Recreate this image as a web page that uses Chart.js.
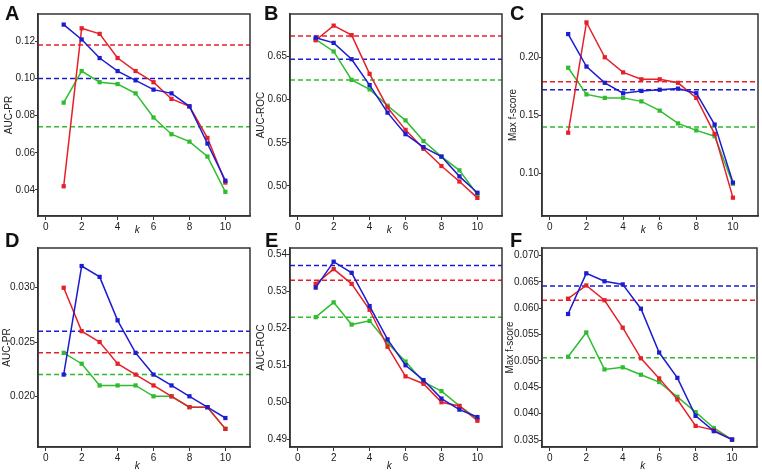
<!DOCTYPE html>
<html>
<head>
<meta charset="utf-8">
<script src="https://cdn.jsdelivr.net/npm/chart.js@4"></script>
<style>
  html, body { margin: 0; padding: 0; background: #fff; }
  #wrap { position: relative; width: 762px; height: 473px; overflow: hidden; }
  #wrap canvas { position: absolute; }
  .letter { position: absolute; font: bold 20px "Liberation Sans", Arial, sans-serif; color: #111; line-height: 1; }
</style>
</head>
<body>
<div id="wrap">
  <canvas id="pA" width="254" height="240" style="left:0;top:0"></canvas>
  <canvas id="pB" width="254" height="240" style="left:252px;top:0"></canvas>
  <canvas id="pC" width="258" height="240" style="left:504px;top:0"></canvas>
  <canvas id="pD" width="254" height="247" style="left:0;top:226px"></canvas>
  <canvas id="pE" width="254" height="247" style="left:252px;top:226px"></canvas>
  <canvas id="pF" width="258" height="247" style="left:504px;top:226px"></canvas>
  <div class="letter" style="left:5px;top:3px">A</div>
  <div class="letter" style="left:264px;top:3px">B</div>
  <div class="letter" style="left:510px;top:3px">C</div>
  <div class="letter" style="left:5px;top:230px">D</div>
  <div class="letter" style="left:265px;top:230px">E</div>
  <div class="letter" style="left:510px;top:230px">F</div>
</div>
<script>
// ── k-sweep panels: AUC-PR / AUC-ROC / Max f-score, two rows ──
const K = [1, 2, 3, 4, 5, 6, 7, 8, 9, 10];
const X_TICKS = [0, 2, 4, 6, 8, 10];

// A
const A_RED   = [0.042, 0.127, 0.124, 0.111, 0.104, 0.098, 0.089, 0.085, 0.068, 0.044];
const A_BLUE  = [0.129, 0.121, 0.111, 0.104, 0.099, 0.094, 0.092, 0.085, 0.065, 0.045];
const A_GREEN = [0.087, 0.104, 0.098, 0.097, 0.092, 0.079, 0.070, 0.066, 0.058, 0.039];
const A_REF   = { red: 0.118, blue: 0.100, green: 0.074 };
const A_TICKS = [0.04, 0.06, 0.08, 0.10, 0.12];

// B
const B_RED   = [0.669, 0.686, 0.675, 0.630, 0.591, 0.565, 0.543, 0.523, 0.505, 0.486];
const B_BLUE  = [0.672, 0.666, 0.647, 0.617, 0.585, 0.560, 0.545, 0.534, 0.511, 0.492];
const B_GREEN = [0.670, 0.656, 0.623, 0.612, 0.593, 0.576, 0.552, 0.534, 0.518, 0.490];
const B_REF   = { red: 0.674, blue: 0.647, green: 0.623 };
const B_TICKS = [0.50, 0.55, 0.60, 0.65];

// C
const C_RED   = [0.135, 0.230, 0.200, 0.187, 0.181, 0.181, 0.178, 0.165, 0.134, 0.079];
const C_BLUE  = [0.220, 0.192, 0.178, 0.169, 0.171, 0.172, 0.173, 0.169, 0.142, 0.092];
const C_GREEN = [0.191, 0.168, 0.165, 0.165, 0.162, 0.154, 0.143, 0.137, 0.132, 0.091];
const C_REF   = { red: 0.179, blue: 0.172, green: 0.140 };
const C_TICKS = [0.10, 0.15, 0.20];

// D
const D_RED   = [0.030, 0.026, 0.025, 0.023, 0.022, 0.021, 0.020, 0.019, 0.019, 0.017];
const D_BLUE  = [0.022, 0.032, 0.031, 0.027, 0.024, 0.022, 0.021, 0.020, 0.019, 0.018];
const D_GREEN = [0.024, 0.023, 0.021, 0.021, 0.021, 0.020, 0.020, 0.019, 0.019, 0.017];
const D_REF   = { red: 0.024, blue: 0.026, green: 0.022 };
const D_TICKS = [0.020, 0.025, 0.030];

// E
const E_RED   = [0.532, 0.536, 0.532, 0.525, 0.515, 0.507, 0.505, 0.500, 0.499, 0.495];
const E_BLUE  = [0.531, 0.538, 0.535, 0.526, 0.517, 0.510, 0.506, 0.501, 0.498, 0.496];
const E_GREEN = [0.523, 0.527, 0.521, 0.522, 0.516, 0.511, 0.5055, 0.503, 0.499, 0.4955];
const E_REF   = { red: 0.533, blue: 0.537, green: 0.523 };
const E_TICKS = [0.49, 0.50, 0.51, 0.52, 0.53, 0.54];

// F
const F_RED   = [0.0618, 0.0643, 0.0615, 0.0563, 0.0505, 0.0467, 0.0427, 0.0377, 0.0369, 0.0351];
const F_BLUE  = [0.0589, 0.0666, 0.0651, 0.0645, 0.0599, 0.0516, 0.0468, 0.0396, 0.0367, 0.0351];
const F_GREEN = [0.0508, 0.0554, 0.0484, 0.0488, 0.0474, 0.0460, 0.0432, 0.0403, 0.0373, 0.0351];
const F_REF   = { red: 0.0615, blue: 0.0642, green: 0.0506 };
const F_TICKS = [0.035, 0.040, 0.045, 0.050, 0.055, 0.060, 0.065, 0.070];

const COL = { red: '#e5202a', blue: '#1c1cd0', green: '#2fbd2f' };
const FONT = "'Liberation Sans', Arial, sans-serif";
const INK = '#222';
const X_MIN = -0.43, X_MAX = 11.37;

const boxPlugin = {
  id: 'box',
  afterDatasetsDraw(chart, _args, opts) {
    const { ctx, chartArea: a, scales } = chart;
    ctx.save();
    ctx.strokeStyle = '#333';
    ctx.lineWidth = 1.5;
    ctx.strokeRect(a.left, a.top, a.right - a.left, a.bottom - a.top);
    ctx.fillStyle = INK;
    ctx.font = `italic 10px ${FONT}`;
    ctx.textAlign = 'center';
    ctx.textBaseline = 'middle';
    ctx.fillText('k', scales.x.getPixelForValue(5.1), a.bottom + opts.kOffset);
    ctx.restore();
  },
};

function _line(vals, color, order) {
  return {
    data: K.map((k, i) => ({ x: k, y: vals[i] })),
    borderColor: color, backgroundColor: color,
    borderWidth: 1.5, pointStyle: 'rect', pointRadius: 3, pointBorderWidth: 0,
    tension: 0, order,
  };
}

function _ref(v, color) {
  return {
    data: [{ x: X_MIN, y: v }, { x: X_MAX, y: v }],
    borderColor: color, borderWidth: 1.5, borderDash: [5, 3],
    pointRadius: 0, tension: 0, order: 4,
  };
}

function makePanel(id, p) {
  const canvas = document.getElementById(id);
  new Chart(canvas.getContext('2d'), {
    type: 'line',
    data: {
      datasets: [
        _ref(p.ref.red, COL.red), _ref(p.ref.blue, COL.blue), _ref(p.ref.green, COL.green),
        _line(p.green, COL.green, 3), _line(p.red, COL.red, 2), _line(p.blue, COL.blue, 1),
      ],
    },
    plugins: [boxPlugin],
    options: {
      responsive: false, animation: false, devicePixelRatio: 1,
      layout: { padding: { top: p.top, right: p.right, left: 0, bottom: 0 } },
      plugins: { legend: { display: false }, tooltip: { enabled: false }, box: { kOffset: p.kOffset } },
      scales: {
        x: {
          type: 'linear', min: X_MIN, max: X_MAX,
          afterBuildTicks: s => { s.ticks = X_TICKS.map(v => ({ value: v })); },
          afterFit: s => { s.height = p.xh; },
          ticks: { font: { family: FONT, size: 10 }, color: INK, padding: 1, maxRotation: 0 },
          grid: { drawOnChartArea: false, tickLength: 4, color: '#333' },
          border: { color: '#333', width: 1.5 },
        },
        y: {
          type: 'linear', min: p.ymin, max: p.ymax,
          afterBuildTicks: s => { s.ticks = p.ticks.map(v => ({ value: v })); },
          afterFit: s => { s.width = 38; },
          ticks: {
            font: { family: FONT, size: 10 }, color: INK, padding: 0,
            callback: v => v.toFixed(p.dec),
          },
          grid: { drawOnChartArea: false, tickLength: 3, color: '#333' },
          border: { color: '#333', width: 1.5 },
          title: { display: true, text: p.title, font: { family: FONT, size: 10 }, color: INK, padding: { top: p.tpad, bottom: 0 } },
        },
      },
    },
  });
}

const TOP = { top: 14, xh: 24, kOffset: 14 };
const BOT = { top: 22, xh: 26, kOffset: 19 };

makePanel('pA', { ...TOP, right: 2,   tpad: 3, red: A_RED, blue: A_BLUE, green: A_GREEN, ref: A_REF, ticks: A_TICKS, ymin: 0.026,  ymax: 0.1347, dec: 2, title: 'AUC-PR' });
makePanel('pB', { ...TOP, right: 1.5, tpad: 3, red: B_RED, blue: B_BLUE, green: B_GREEN, ref: B_REF, ticks: B_TICKS, ymin: 0.465,  ymax: 0.6995, dec: 2, title: 'AUC-ROC' });
makePanel('pC', { ...TOP, right: 4,   tpad: 3, red: C_RED, blue: C_BLUE, green: C_GREEN, ref: C_REF, ticks: C_TICKS, ymin: 0.0632, ymax: 0.2373, dec: 2, title: 'Max f-score' });
makePanel('pD', { ...BOT, right: 2,   tpad: 1, red: D_RED, blue: D_BLUE, green: D_GREEN, ref: D_REF, ticks: D_TICKS, ymin: 0.01533, ymax: 0.03366, dec: 3, title: 'AUC-PR' });
makePanel('pE', { ...BOT, right: 1.5, tpad: 3, red: E_RED, blue: E_BLUE, green: E_GREEN, ref: E_REF, ticks: E_TICKS, ymin: 0.4879, ymax: 0.5417, dec: 2, title: 'AUC-ROC' });
makePanel('pF', { ...BOT, right: 5,   tpad: 0, red: F_RED, blue: F_BLUE, green: F_GREEN, ref: F_REF, ticks: F_TICKS, ymin: 0.0337, ymax: 0.0714, dec: 3, title: 'Max f-score' });
</script>
</body>
</html>
